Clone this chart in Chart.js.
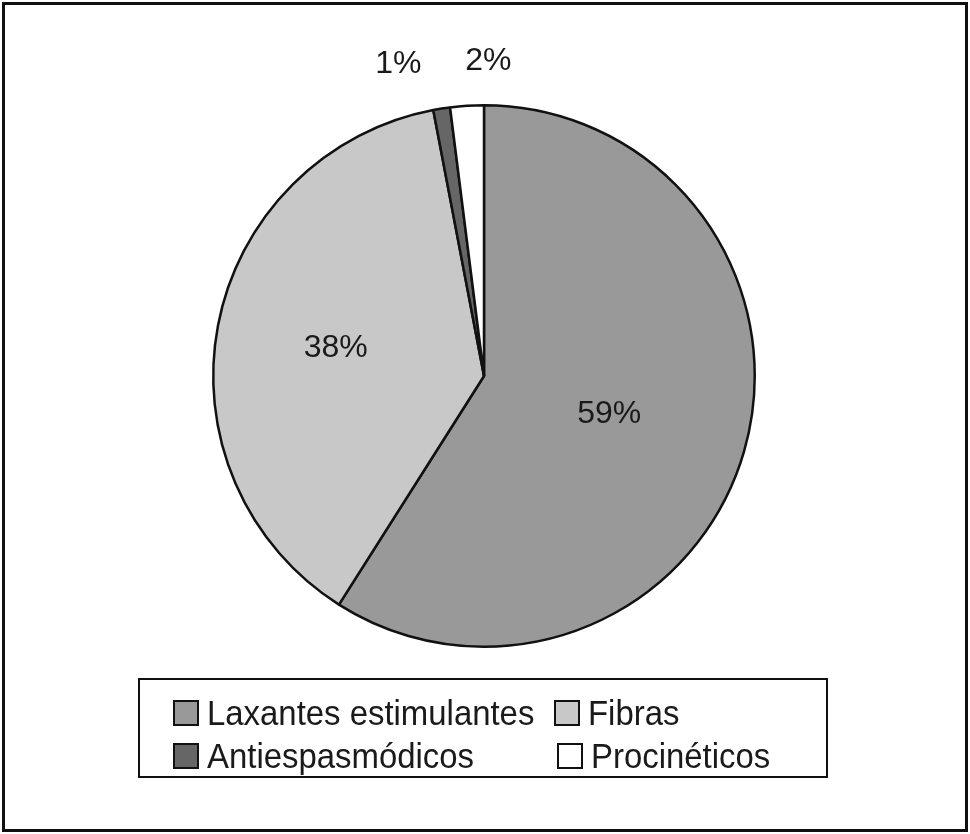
<!DOCTYPE html>
<html>
<head>
<meta charset="utf-8">
<script src="https://cdn.jsdelivr.net/npm/chart.js@4"></script>
<style>
    html, body { margin: 0; padding: 0; background: #fff; }
    body { width: 970px; height: 834px; position: relative; overflow: hidden;
           font-family: "Liberation Sans", Arial, sans-serif; color: #1a1a1a; }
    #frame { position: absolute; left: 2px; top: 2px; width: 966px; height: 830px;
             box-sizing: border-box; border: 3px solid #111; }
    #chart-wrap { position: absolute; left: 0; top: 0; width: 970px; height: 834px; }
    #legend { position: absolute; left: 138px; top: 678px; width: 690px; height: 100px;
              box-sizing: border-box; border: 2px solid #111; }
    .legend-item { position: absolute; display: flex; align-items: center; font-size: 35px;
                   line-height: 36px; white-space: nowrap; }
    .legend-item .txt { display: inline-block; transform: scaleX(0.94); transform-origin: left center; }
    .swatch { width: 26px; height: 26px; box-sizing: border-box; border: 2px solid #111;
              margin-right: 8px; flex: none; }
</style>
</head>
<body>
<div id="frame"></div>
<div id="chart-wrap"><canvas id="pie-chart" width="970" height="834"></canvas></div>
<div id="legend"></div>

<script>
// chart data
const categories = ['Laxantes estimulantes', 'Fibras', 'Antiespasmódicos', 'Procinéticos'];
const shares = [59, 38, 1, 2];
const sliceColors = ['#999999', '#c8c8c8', '#666666', '#ffffff'];

// legend slots (column, row) for each category
const legendSlots = [
    { left: 33, top: 15 },
    { left: 414, top: 15 },
    { left: 33, top: 58 },
    { left: 417, top: 58 }
];

// draws the percentage next to / inside each slice
const percentLabels = {
    id: 'percentLabels',
    afterDatasetsDraw(chart) {
        const ctx = chart.ctx;
        const meta = chart.getDatasetMeta(0);
        const ds = chart.data.datasets[0];
        const total = ds.data.reduce((a, b) => a + b, 0);
        const inside = [];
        const outside = [];

        meta.data.forEach((arc, i) => {
            const pct = ds.data[i] / total;
            const mid = (arc.startAngle + arc.endAngle) / 2;
            if (pct > 0.1) {
                const r = arc.outerRadius * 0.52;
                inside.push({ x: arc.x + Math.cos(mid) * r - 10, y: arc.y + Math.sin(mid) * r - 1,
                              text: ds.data[i] + '%' });
            } else {
                const r = arc.outerRadius + 45;
                outside.push({ x: arc.x + Math.cos(mid) * r - 6, y: arc.y + Math.sin(mid) * r,
                               text: ds.data[i] + '%' });
            }
        });

        // spread small-slice labels so they don't overlap
        outside.sort((a, b) => a.x - b.x);
        const minGap = 90;
        for (let k = 1; k < outside.length; k++) {
            const gap = outside[k].x - outside[k - 1].x;
            if (gap < minGap) {
                const shift = (minGap - gap) / 2;
                outside[k - 1].x -= shift;
                outside[k].x += shift;
            }
        }

        ctx.save();
        ctx.font = '32px "Liberation Sans", Arial, sans-serif';
        ctx.fillStyle = '#1a1a1a';
        ctx.textAlign = 'center';
        ctx.textBaseline = 'middle';
        inside.concat(outside).forEach(l => ctx.fillText(l.text, l.x, l.y));
        ctx.restore();
    }
};

const chart = new Chart(document.getElementById('pie-chart'), {
    type: 'pie',
    data: {
        labels: categories,
        datasets: [{
            data: shares,
            backgroundColor: sliceColors,
            borderColor: '#111111',
            borderWidth: 2.5
        }]
    },
    options: {
        responsive: false,
        animation: false,
        layout: { padding: { left: 212, right: 214, top: 104, bottom: 186 } },
        plugins: {
            legend: { display: false },
            tooltip: { enabled: false }
        }
    },
    plugins: [percentLabels]
});

// html legend built from the chart's own labels
const legendBox = document.getElementById('legend');
categories.forEach((name, i) => {
    const item = document.createElement('div');
    item.className = 'legend-item';
    item.style.left = legendSlots[i].left + 'px';
    item.style.top = legendSlots[i].top + 'px';
    item.innerHTML = `<span class="swatch" style="background:${sliceColors[i]}"></span><span class="txt">${name}</span>`;
    legendBox.appendChild(item);
});
</script>
</body>
</html>
